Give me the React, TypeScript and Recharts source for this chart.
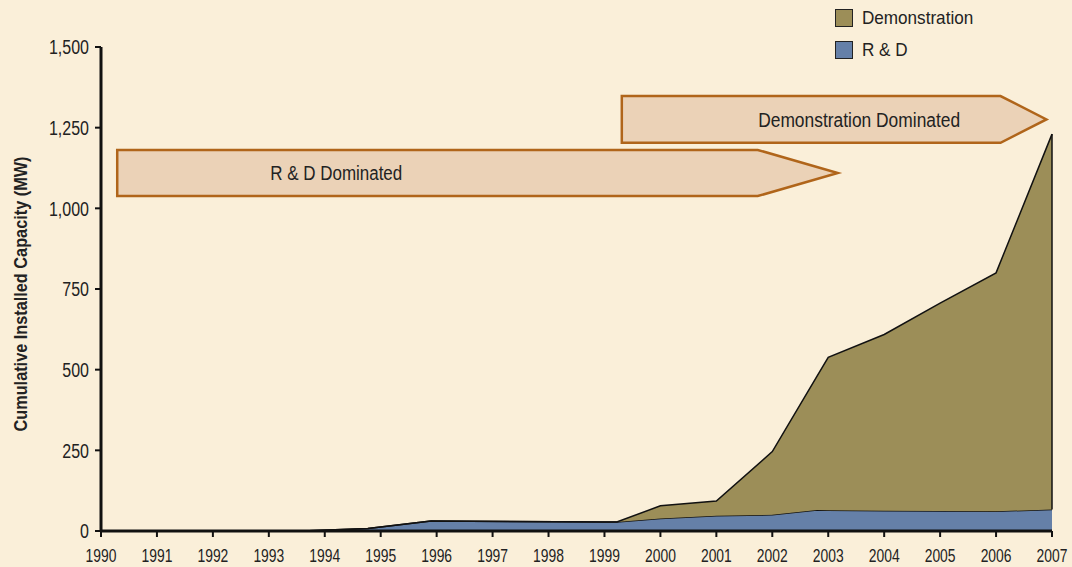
import { AreaChart, Area, XAxis, YAxis, ReferenceArea, ReferenceLine } from 'recharts';

const years = [1990, 1993.6, 1994.77, 1995.9, 1999.0, 1999.22, 2000, 2001, 2002, 2002.8, 2003, 2004, 2005, 2006, 2007];
const rdValues = [0, 0, 8, 31, 28, 28, 39, 47, 50, 65, 64, 63, 62, 61, 67];
const demoValues = [0, 0, 0, 0, 0, 0, 39, 46, 196, 415, 474, 546, 644, 739, 1163];

const yearTicks = [1990, 1991, 1992, 1993, 1994, 1995, 1996, 1997, 1998, 1999, 2000, 2001, 2002, 2003, 2004, 2005, 2006, 2007];
const capacityTicks = [0, 250, 500, 750, 1000, 1250, 1500];

// phase arrows: label, start year, end of body, tip, top and bottom in MW
const phaseLabels = ['R & D Dominated', 'Demonstration Dominated'];
const phaseStart = [1990.29, 1999.31];
const phaseBodyEnd = [2001.74, 2006.08];
const phaseTip = [2003.17, 2006.9];
const phaseTop = [1181, 1348];
const phaseBottom = [1038, 1203];
const phaseTextAt = [0.304, 0.559];
const phaseTextLen = [132, 202];

const data = years.map((year, i) => ({
  year,
  rd: rdValues[i],
  demo: demoValues[i],
}));

const FONT = '"Liberation Sans", Arial, sans-serif';
const BG = '#faefd9';
const DEMO = '#9c8e58';
const RD = '#6580a8';
const INK = '#222';

// no condensed face installed, so squeeze the glyphs horizontally
const XTick = (props: any) => {
  const { x, y, payload } = props;
  return (
    <g transform={`translate(${x},${y})`}>
      <text transform="scale(0.75,1)" textAnchor="middle" dy="0.71em" fontFamily={FONT} fontSize={18.5} fill={INK}>
        {payload.value}
      </text>
    </g>
  );
};

const YTick = (props: any) => {
  const { x, y, payload } = props;
  return (
    <g transform={`translate(${x},${y})`}>
      <text transform="scale(0.8,1)" textAnchor="end" dy="0.36em" fontFamily={FONT} fontSize={20} fill={INK}>
        {Number(payload.value).toLocaleString('en-US')}
      </text>
    </g>
  );
};

const makeArrow = (i: number) => (props: any) => {
  const { x, y, width, height } = props;
  const bodyW = ((phaseBodyEnd[i] - phaseStart[i]) / (phaseTip[i] - phaseStart[i])) * width;
  const pts = [
    [x, y],
    [x + bodyW, y],
    [x + width, y + height / 2],
    [x + bodyW, y + height],
    [x, y + height],
  ].map((p) => p.join(',')).join(' ');
  return (
    <g>
      <polygon points={pts} fill="#ebd2b7" stroke="#b0651a" strokeWidth={2.5} />
      <text
        x={x + width * phaseTextAt[i]}
        y={y + height / 2}
        textAnchor="middle"
        dy="0.36em"
        textLength={phaseTextLen[i]}
        lengthAdjust="spacingAndGlyphs"
        fontFamily={FONT}
        fontSize={20}
        fill={INK}
      >
        {phaseLabels[i]}
      </text>
    </g>
  );
};

const legendItems = [
  { name: 'Demonstration', color: DEMO },
  { name: 'R & D', color: RD },
];

const LegendBox = () => (
  <div style={{ position: 'absolute', left: 835, top: 2, fontFamily: FONT, fontSize: 19, color: INK }}>
    {legendItems.map((item) => (
      <div key={item.name} style={{ display: 'flex', alignItems: 'center', height: 32 }}>
        <span
          style={{
            display: 'inline-block',
            width: 16,
            height: 16,
            background: item.color,
            border: '1.5px solid #222',
            marginRight: 9,
          }}
        />
        <span style={{ display: 'inline-block', transform: 'scaleX(0.9)', transformOrigin: 'left center', whiteSpace: 'nowrap' }}>
          {item.name}
        </span>
      </div>
    ))}
  </div>
);

export default function App() {
  const last = data.length - 1;
  return (
    <div style={{ position: 'fixed', left: 0, top: 0, width: 1072, height: 567, background: BG }}>
      <AreaChart width={1072} height={567} data={data} margin={{ top: 47, right: 20, bottom: 0, left: 0 }}>
        <XAxis
          dataKey="year"
          type="number"
          domain={[1990, 2007]}
          ticks={yearTicks}
          height={36}
          tickSize={6}
          tickMargin={12}
          axisLine={{ stroke: '#111', strokeWidth: 3 }}
          tickLine={{ stroke: '#111', strokeWidth: 2 }}
          tick={<XTick />}
        />
        <YAxis
          type="number"
          domain={[0, 1500]}
          ticks={capacityTicks}
          width={101}
          tickSize={6}
          tickMargin={6}
          axisLine={{ stroke: '#111', strokeWidth: 3 }}
          tickLine={{ stroke: '#111', strokeWidth: 2 }}
          tick={<YTick />}
          label={{
            content: () => (
              <text
                transform="translate(26.5, 294) rotate(-90)"
                textAnchor="middle"
                textLength={275}
                lengthAdjust="spacingAndGlyphs"
                fontFamily={FONT}
                fontWeight="bold"
                fontSize={19}
                fill={INK}
              >
                Cumulative Installed Capacity (MW)
              </text>
            ),
          }}
        />
        <Area
          type="linear"
          dataKey="rd"
          name="R & D"
          stackId="1"
          fill={RD}
          fillOpacity={1}
          stroke="#111"
          strokeWidth={1.5}
          isAnimationActive={false}
        />
        <Area
          type="linear"
          dataKey="demo"
          name="Demonstration"
          stackId="1"
          fill={DEMO}
          fillOpacity={1}
          stroke="#111"
          strokeWidth={1.5}
          isAnimationActive={false}
        />
        <ReferenceLine
          segment={[
            { x: years[last], y: rdValues[last] },
            { x: years[last], y: rdValues[last] + demoValues[last] },
          ]}
          stroke="#111"
          strokeWidth={1.5}
        />
        {phaseLabels.map((label, i) => (
          <ReferenceArea
            key={label}
            x1={phaseStart[i]}
            x2={phaseTip[i]}
            y1={phaseBottom[i]}
            y2={phaseTop[i]}
            shape={makeArrow(i)}
          />
        ))}
      </AreaChart>
      <LegendBox />
    </div>
  );
}
